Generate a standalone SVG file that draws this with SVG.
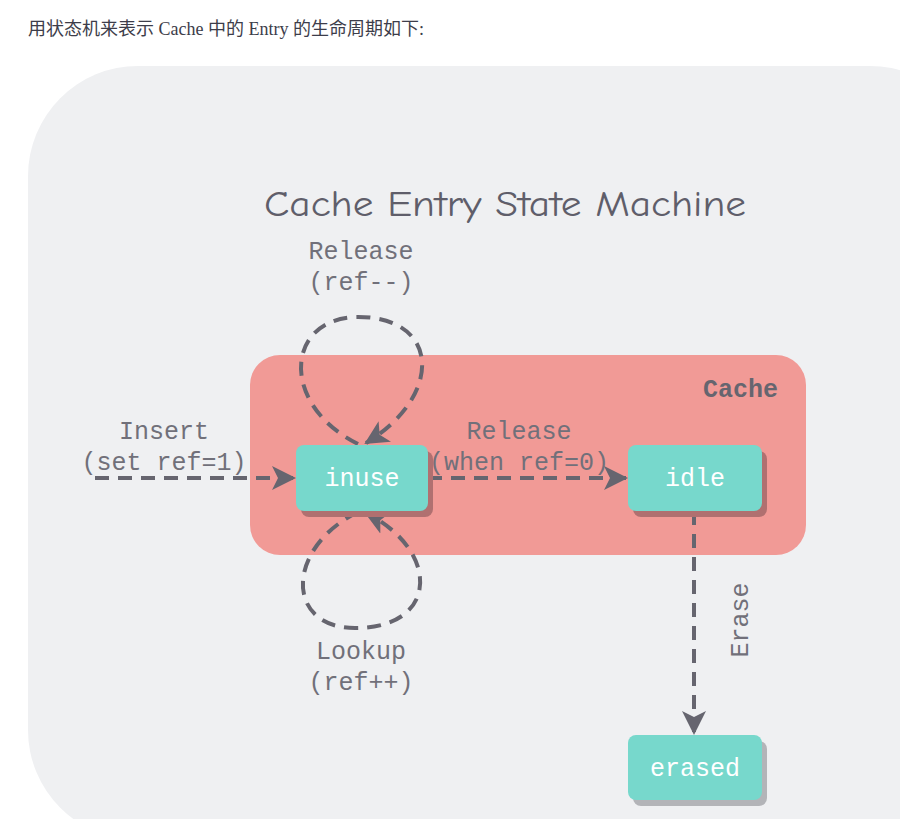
<svg xmlns="http://www.w3.org/2000/svg" width="900" height="819" viewBox="0 0 900 819">
<defs>
<style>
.lbl{font-family:"Liberation Mono","Courier New",monospace;font-size:25px;fill:#71707a;text-anchor:middle}
.ntx{font-family:"Liberation Mono","Courier New",monospace;font-size:25px;fill:#ffffff;text-anchor:middle}
.node{fill:#77d8cc}
.edge{fill:none;stroke:#66656f;stroke-width:4;stroke-dasharray:14 9}
</style>
<marker id="ah" markerUnits="userSpaceOnUse" markerWidth="30" markerHeight="30" refX="22" refY="12" orient="auto">
<path d="M0,0 L24,12 L0,24 L6,12 Z" fill="#66656f"/>
</marker>
</defs>
<rect width="900" height="819" fill="#ffffff"/>
<text x="28" y="35" font-family="'Liberation Serif','Noto Sans CJK SC',serif" font-size="18" fill="#3d3d4a">用状态机来表示 Cache 中的 Entry 的生命周期如下:</text>
<rect x="28" y="66" width="952" height="774" rx="110" fill="#eff0f2"/>
<text x="505" y="216" text-anchor="middle" font-family="'Comic Sans MS','Comic Neue','DejaVu Sans',sans-serif" font-size="36" fill="#5f5e6a" textLength="482" lengthAdjust="spacingAndGlyphs">Cache Entry State Machine</text>
<g id="cache">
<rect x="250" y="355" width="556" height="200" rx="30" fill="#f19a96"/>
<text x="778" y="397" text-anchor="end" font-family="'Liberation Mono',monospace" font-weight="bold" font-size="25" fill="#66656f">Cache</text>
</g>
<g id="edges">
<path class="edge" d="M95,478 L294,478" marker-end="url(#ah)"/>
<path class="edge" d="M428,478 L626,478" marker-end="url(#ah)"/>
<path class="edge" d="M694,511 L694,733" marker-end="url(#ah)"/>
<path class="edge" d="M358,444 C280,405 285,320 355,317 C440,315 445,395 366,443" marker-end="url(#ah)"/>
<path class="edge" d="M358,512 C285,548 285,628 355,628 C440,628 440,550 366,513" marker-end="url(#ah)"/>
</g>
<g id="labels">
<text class="lbl" x="361" y="259">Release</text>
<text class="lbl" x="361" y="290">(ref--)</text>
<text class="lbl" x="164" y="439">Insert</text>
<text class="lbl" x="164" y="470">(set ref=1)</text>
<text class="lbl" x="519" y="439">Release</text>
<text class="lbl" x="519" y="470">(when ref=0)</text>
<text class="lbl" x="361" y="659">Lookup</text>
<text class="lbl" x="361" y="690">(ref++)</text>
<text class="lbl" transform="translate(748,620) rotate(-90)" x="0" y="0">Erase</text>
</g>
<g id="inuse">
<rect x="301" y="451" width="132" height="66" rx="8" fill="#b07070"/>
<rect class="node" x="296" y="445" width="132" height="66" rx="8"/>
<text class="ntx" x="362" y="486">inuse</text>
</g>
<g id="idle">
<rect x="633" y="451" width="134" height="66" rx="8" fill="#b07070"/>
<rect class="node" x="628" y="445" width="134" height="66" rx="8"/>
<text class="ntx" x="695" y="486">idle</text>
</g>
<g id="erased">
<rect x="633" y="741" width="134" height="65" rx="8" fill="#b3b4b8"/>
<rect class="node" x="628" y="735" width="134" height="65" rx="8"/>
<text class="ntx" x="695" y="776">erased</text>
</g>
</svg>
